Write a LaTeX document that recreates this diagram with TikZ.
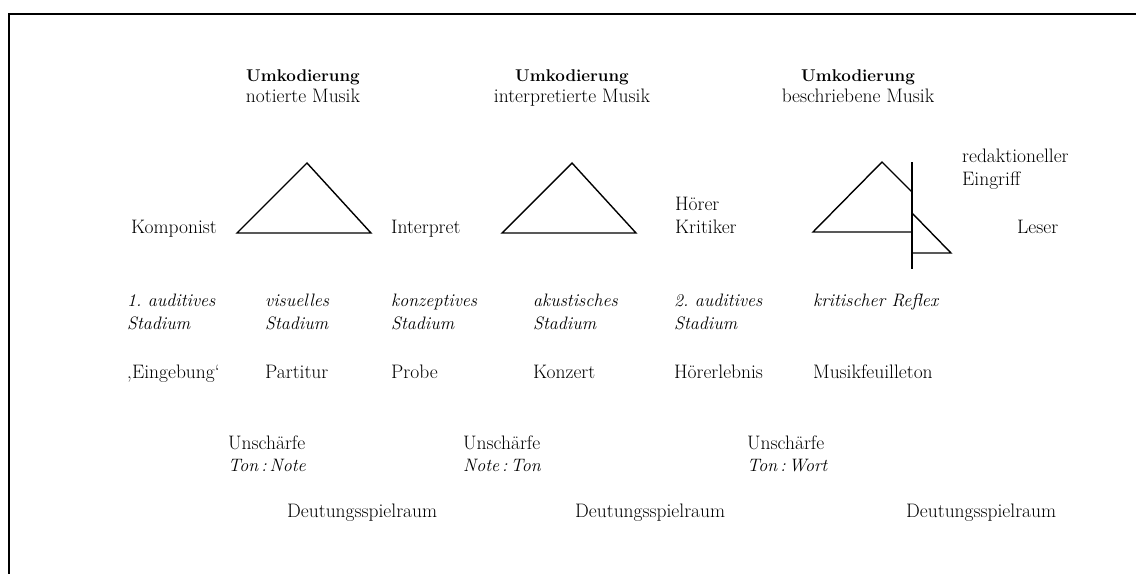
\documentclass[tikz,border=0pt]{standalone}
\begin{document}
\begin{tikzpicture}[x=1pt,y=-1pt,
  txt/.style={inner sep=0pt,anchor=base west,font=\fontsize{19.5}{23}\selectfont},
  itx/.style={inner sep=0pt,anchor=base west,font=\fontsize{18}{22}\selectfont\itshape},
  ttl/.style={inner sep=0pt,anchor=base,font=\fontsize{17}{22}\selectfont\bfseries},
  sub/.style={inner sep=0pt,anchor=base,font=\fontsize{19.5}{23}\selectfont},
  frame/.style={line width=2pt},
  tri/.style={line width=1.4pt,line join=miter}]
\useasboundingbox (0,0) rectangle (1136,574);
% frame
\draw[frame] (1136,14) -- (9,14) -- (9,574);
% titles
\node[ttl] (u1) at (303,81) {Umkodierung};
\node[sub] (m1) at (303,102) {notierte Musik};
\node[ttl] (u2) at (572,81) {Umkodierung};
\node[sub] (m2) at (572,102) {interpretierte Musik};
\node[ttl] (u3) at (858,81) {Umkodierung};
\node[sub] (m3) at (858,102) {beschriebene Musik};
% triangles
\draw[tri] (237,233) -- (307,163) -- (371,233) -- cycle;
\draw[tri] (502,233) -- (572,163) -- (636,233) -- cycle;
\draw[tri] (912,192) -- (882,162) -- (813,232) -- (912,232);
\draw[tri] (912,162) -- (912,269);
\draw[tri] (912,213) -- (951,253) -- (912,253);
% agents
\node[txt] (komp) at (131,233) {Komponist};
\node[txt] (interp) at (391,233) {Interpret};
\node[txt] (hoerer) at (675,210) {Hörer};
\node[txt] (krit) at (675,233) {Kritiker};
\node[txt] (leser) at (1017,233) {Leser};
\node[txt] (red) at (962,162) {redaktioneller};
\node[txt] (eing) at (962,185) {Eingriff};
% stages
\node[itx] (s1a) at (127,306) {1.\ auditives};
\node[itx] (s1b) at (127,329) {Stadium};
\node[itx] (s2a) at (265,306) {visuelles};
\node[itx] (s2b) at (265,329) {Stadium};
\node[itx] (s3a) at (391,306) {konzeptives};
\node[itx] (s3b) at (391,329) {Stadium};
\node[itx] (s4a) at (533,306) {akustisches};
\node[itx] (s4b) at (533,329) {Stadium};
\node[itx] (s5a) at (674,306) {2.\ auditives};
\node[itx] (s5b) at (674,329) {Stadium};
\node[itx] (s6a) at (813,306) {kritischer Reflex};
% examples
\node[txt] (e1) at (127,378) {‚Eingebung‘};
\node[txt] (e2) at (265,378) {Partitur};
\node[txt] (e3) at (391,378) {Probe};
\node[txt] (e4) at (533,378) {Konzert};
\node[txt] (e5) at (674,378) {Hörerlebnis};
\node[txt] (e6) at (813,378) {Musikfeuilleton};
% Unschaerfe
\node[txt] (un1) at (228,449) {Unschärfe};
\node[itx] (tn1) at (228,471) {Ton\,:\,Note};
\node[txt] (un2) at (463,449) {Unschärfe};
\node[itx] (tn2) at (463,471) {Note\,:\,Ton};
\node[txt] (un3) at (747,449) {Unschärfe};
\node[itx] (tn3) at (747,471) {Ton\,:\,Wort};
% Deutungsspielraum
\node[txt] (d1) at (287,517) {Deutungsspielraum};
\node[txt] (d2) at (575,517) {Deutungsspielraum};
\node[txt] (d3) at (906,517) {Deutungsspielraum};
\end{tikzpicture}
\end{document}
